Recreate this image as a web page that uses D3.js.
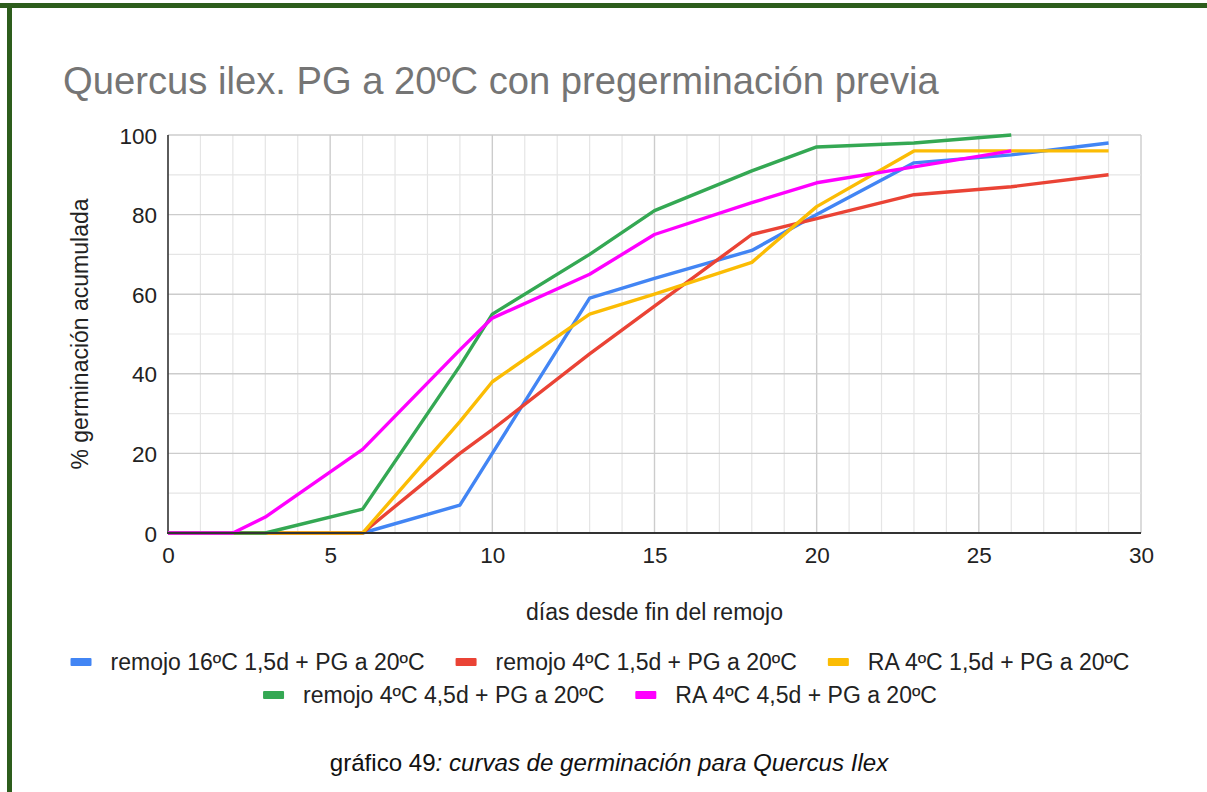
<!DOCTYPE html>
<html lang="es">
<head>
<meta charset="utf-8">
<title>Quercus ilex. PG a 20ºC con pregerminación previa</title>
<script src="https://cdn.jsdelivr.net/npm/d3@7"></script>
<style>
  html, body { margin: 0; padding: 0; background: #fff; }
  svg { display: block; font-family: "Liberation Sans", Arial, sans-serif; }
</style>
</head>
<body>
<svg id="chart" width="1207" height="792"></svg>
<script>
// Days since the end of soaking at which germination was counted
const days = [0, 2, 3, 6, 9, 10, 13, 15, 18, 20, 23, 26, 29];

// Cumulative germination (%) per treatment; null = not counted
const remojo16_15 = [0, 0, 0, 0, 7, 20, 59, 64, 71, 80, 93, 95, 98];
const remojo4_15  = [0, 0, 0, 0, 20, 26, 45, 57, 75, 79, 85, 87, 90];
const ra4_15      = [0, 0, 0, 0, 28, 38, 55, 60, 68, 82, 96, 96, 96];
const remojo4_45  = [0, 0, 0, 6, 42, 55, 70, 81, 91, 97, 98, 100, null];
const ra4_45      = [0, 0, 4, 21, 46, 54, 65, 75, 83, 88, 92, 96, null];

const seriesNames = [
  "remojo 16ºC 1,5d + PG a 20ºC",
  "remojo 4ºC 1,5d + PG a 20ºC",
  "RA 4ºC 1,5d + PG a 20ºC",
  "remojo 4ºC 4,5d + PG a 20ºC",
  "RA 4ºC 4,5d + PG a 20ºC"
];
const seriesValues = [remojo16_15, remojo4_15, ra4_15, remojo4_45, ra4_45];
const seriesColors = ["#4285f4", "#ea4335", "#fbbc04", "#34a853", "#ff00ff"];

const xTicks = [0, 5, 10, 15, 20, 25, 30];
const yTicks = [0, 20, 40, 60, 80, 100];

const titleText = "Quercus ilex. PG a 20ºC con pregerminación previa";
const xTitle = "días desde fin del remojo";
const yTitle = "% germinación acumulada";
const captionPlain = "gráfico 49";
const captionItalic = ": curvas de germinación para Quercus Ilex";

const svg = d3.select("#chart");
const W = 1207, H = 792;

// page frame: dark green rule along the top and left edges
svg.append("rect").attr("x", 0).attr("y", 3).attr("width", W).attr("height", 5).attr("fill", "#2d5d1c");
svg.append("rect").attr("x", 7).attr("y", 3).attr("width", 5).attr("height", H - 3).attr("fill", "#2d5d1c");

const plot = { left: 168, right: 1141, top: 135, bottom: 533 };
const x = d3.scaleLinear().domain([0, 30]).range([plot.left, plot.right]);
const y = d3.scaleLinear().domain([0, 100]).range([plot.bottom, plot.top]);

// title
svg.append("text")
  .attr("x", 63).attr("y", 94)
  .attr("font-size", 38.2).attr("fill", "#757575")
  .text(titleText);

// grid: minor lines every day / every 10 %, major every 5 days / 20 %
const grid = svg.append("g");
grid.selectAll("line.vminor").data(d3.range(1, 30)).join("line")
  .attr("x1", d => x(d)).attr("x2", d => x(d))
  .attr("y1", plot.top).attr("y2", plot.bottom)
  .attr("stroke", d => d % 5 === 0 ? "#cccccc" : "#e5e5e5")
  .attr("stroke-width", d => d % 5 === 0 ? 1.4 : 1.2);
grid.append("line")
  .attr("x1", x(30)).attr("x2", x(30))
  .attr("y1", plot.top).attr("y2", plot.bottom)
  .attr("stroke", "#cccccc").attr("stroke-width", 1.4);
grid.selectAll("line.h").data(d3.range(10, 101, 10)).join("line")
  .attr("x1", plot.left).attr("x2", plot.right)
  .attr("y1", d => y(d)).attr("y2", d => y(d))
  .attr("stroke", d => d % 20 === 0 ? "#cccccc" : "#e5e5e5")
  .attr("stroke-width", d => d % 20 === 0 ? 1.4 : 1.2);

// axes
const xAxis = d3.axisBottom(x).tickValues(xTicks).tickSize(0).tickPadding(14);
const yAxis = d3.axisLeft(y).tickValues(yTicks).tickSize(0).tickPadding(11);

const gx = svg.append("g").attr("transform", `translate(0,${plot.bottom})`).call(xAxis);
gx.select(".domain").remove();
gx.selectAll("text").attr("font-size", 22.5).attr("fill", "#222").attr("font-family", null)
  .attr("dy", null).attr("y", 30);

const gy = svg.append("g").attr("transform", `translate(${plot.left},0)`).call(yAxis);
gy.select(".domain").remove();
gy.selectAll("text").attr("font-size", 22.5).attr("fill", "#222").attr("font-family", null)
  .attr("dy", "0.36em").attr("x", -11);

// axis lines
svg.append("line")
  .attr("x1", plot.left).attr("x2", plot.left)
  .attr("y1", plot.top).attr("y2", plot.bottom)
  .attr("stroke", "#333").attr("stroke-width", 1.6);

// series lines
const line = d3.line()
  .defined(d => d.v !== null)
  .x(d => x(d.day))
  .y(d => y(d.v));

svg.append("g").selectAll("path").data(seriesValues).join("path")
  .attr("d", vals => line(days.map((day, i) => ({ day, v: vals[i] }))))
  .attr("fill", "none")
  .attr("stroke", (d, i) => seriesColors[i])
  .attr("stroke-width", 3.4)
  .attr("stroke-linejoin", "round");

svg.append("line")
  .attr("x1", plot.left - 1).attr("x2", plot.right)
  .attr("y1", plot.bottom).attr("y2", plot.bottom)
  .attr("stroke", "#333").attr("stroke-width", 2);

// axis titles
svg.append("text")
  .attr("x", (plot.left + plot.right) / 2).attr("y", 620)
  .attr("text-anchor", "middle").attr("font-size", 23).attr("fill", "#222")
  .text(xTitle);

svg.append("text")
  .attr("transform", `translate(88,${(plot.top + plot.bottom) / 2}) rotate(-90)`)
  .attr("text-anchor", "middle").attr("font-size", 23).attr("fill", "#222")
  .text(yTitle);

// legend, two centred rows
const legendRows = [[0, 1, 2], [3, 4]];
const rowY = [662, 695];
const swW = 21, swH = 8, swGap = 19, itemGap = 31, legendCenter = 600;
const legend = svg.append("g");
legendRows.forEach((row, r) => {
  const g = legend.append("g");
  let cx = 0;
  row.forEach(i => {
    g.append("rect")
      .attr("x", cx).attr("y", rowY[r] - swH / 2)
      .attr("width", swW).attr("height", swH).attr("rx", 1)
      .attr("fill", seriesColors[i]);
    const t = g.append("text")
      .attr("x", cx + swW + swGap).attr("y", rowY[r] + 8)
      .attr("font-size", 23).attr("fill", "#222")
      .text(seriesNames[i]);
    cx += swW + swGap + t.node().getComputedTextLength() + itemGap;
  });
  const rowWidth = cx - itemGap;
  g.attr("transform", `translate(${legendCenter - rowWidth / 2},0)`);
});

// caption under the chart
const cap = svg.append("text")
  .attr("x", 609).attr("y", 771)
  .attr("text-anchor", "middle").attr("font-size", 24.1).attr("fill", "#111");
cap.append("tspan").text(captionPlain);
cap.append("tspan").attr("font-style", "italic").text(captionItalic);
</script>
</body>
</html>
